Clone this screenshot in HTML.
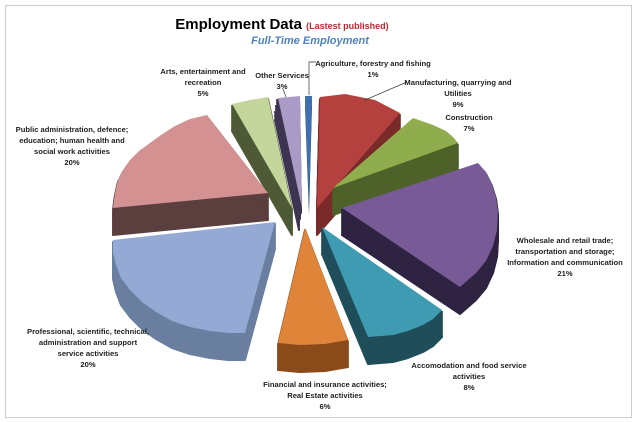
<!DOCTYPE html>
<html><head><meta charset="utf-8"><style>
html,body{margin:0;padding:0;background:#fff}
svg{display:block}
text{font-family:"Liberation Sans",sans-serif;font-weight:bold;font-size:7.6px;fill:#222;text-anchor:middle}
.x use{stroke-width:2;stroke-linejoin:round}
</style></head><body>
<svg width="637" height="422" viewBox="0 0 637 422" xmlns="http://www.w3.org/2000/svg">
<defs>
<polygon id="red" points="317,208 320,97 345,94 375,100 400,113"/>
<polygon id="con" points="333,188 413,118 433,125 446,131 453,137 458,143"/>
<polygon id="agr" points="305,96 312,96 309,205"/>
<polygon id="lav" points="278,98 300,96 302,208"/>
<polygon id="art" points="292,208 232,104 250,100 268,97"/>
<polygon id="pnk" points="268,193 207,115 190,119 175,126 161,135 150,143 139,151 130,160 123,170 118,180 115,193 113,208"/>
<polygon id="pur" points="342,208 478,163 486,172 492,184 496,197 498,212 497,230 493,246 486,261 476,273 460,287"/>
<polygon id="blu" points="275,222 113,240 113,252 116,265 121,278 130,290 142,302 156,312 172,321 190,327 210,331 228,333 245,333"/>
<polygon id="tea" points="322,227 442,310 433,319 423,325 408,331 393,335 368,337"/>
<polygon id="org" points="305,228 278,343 300,345 325,344 348,340"/>
<g id="d2"><use href="#red" y="0"/></g>
</defs>
<rect x="5.5" y="5.5" width="626" height="412" fill="#fff" stroke="#ccc"/>

<g class="x" fill="#7a2a28" stroke="#7a2a28"><use href="#red" y="2"/><use href="#red" y="4"/><use href="#red" y="6"/><use href="#red" y="8"/><use href="#red" y="10"/><use href="#red" y="12"/><use href="#red" y="14"/><use href="#red" y="16"/><use href="#red" y="18"/><use href="#red" y="20"/><use href="#red" y="22"/><use href="#red" y="24"/><use href="#red" y="26"/><use href="#red" y="27"/></g>
<use href="#red" fill="#b5413f"/>
<g class="x" fill="#4e6128" stroke="#4e6128"><use href="#con" y="2"/><use href="#con" y="4"/><use href="#con" y="6"/><use href="#con" y="8"/><use href="#con" y="10"/><use href="#con" y="12"/><use href="#con" y="14"/><use href="#con" y="16"/><use href="#con" y="18"/><use href="#con" y="20"/><use href="#con" y="22"/><use href="#con" y="24"/><use href="#con" y="26"/><use href="#con" y="27"/></g>
<use href="#con" fill="#8fad4c"/>
<g fill="#2a4a7a"><use href="#agr" y="4"/><use href="#agr" y="10"/></g>
<use href="#agr" fill="#3f6fb0"/>
<g class="x" fill="#3c3450" stroke="#3c3450"><use href="#lav" x="-1" y="2"/><use href="#lav" x="-1" y="5"/><use href="#lav" x="-2" y="8"/><use href="#lav" x="-2" y="11"/><use href="#lav" x="-3" y="14"/><use href="#lav" x="-3" y="18"/><use href="#lav" x="-3" y="22"/></g>
<use href="#lav" fill="#a99bc5"/>
<g class="x" fill="#4e5a36" stroke="#4e5a36"><use href="#art" y="2"/><use href="#art" y="4"/><use href="#art" y="6"/><use href="#art" y="8"/><use href="#art" y="10"/><use href="#art" y="12"/><use href="#art" y="14"/><use href="#art" y="16"/><use href="#art" y="18"/><use href="#art" y="20"/><use href="#art" y="22"/><use href="#art" y="24"/><use href="#art" y="26"/><use href="#art" y="27"/></g>
<use href="#art" fill="#c4d69c"/>
<g class="x" fill="#5b3e3e" stroke="#5b3e3e"><use href="#pnk" y="2"/><use href="#pnk" y="4"/><use href="#pnk" y="6"/><use href="#pnk" y="8"/><use href="#pnk" y="10"/><use href="#pnk" y="12"/><use href="#pnk" y="14"/><use href="#pnk" y="16"/><use href="#pnk" y="18"/><use href="#pnk" y="20"/><use href="#pnk" y="22"/><use href="#pnk" y="24"/><use href="#pnk" y="26"/><use href="#pnk" y="27"/></g>
<use href="#pnk" fill="#d39291"/>
<g class="x" fill="#2e2340" stroke="#2e2340"><use href="#pur" y="2"/><use href="#pur" y="4"/><use href="#pur" y="6"/><use href="#pur" y="8"/><use href="#pur" y="10"/><use href="#pur" y="12"/><use href="#pur" y="14"/><use href="#pur" y="16"/><use href="#pur" y="18"/><use href="#pur" y="20"/><use href="#pur" y="22"/><use href="#pur" y="24"/><use href="#pur" y="26"/><use href="#pur" y="27"/></g>
<use href="#pur" fill="#775a96"/>
<g class="x" fill="#6a7ea0" stroke="#6a7ea0"><use href="#blu" y="2"/><use href="#blu" y="4"/><use href="#blu" y="6"/><use href="#blu" y="8"/><use href="#blu" y="10"/><use href="#blu" y="12"/><use href="#blu" y="14"/><use href="#blu" y="16"/><use href="#blu" y="18"/><use href="#blu" y="20"/><use href="#blu" y="22"/><use href="#blu" y="24"/><use href="#blu" y="26"/><use href="#blu" y="27"/></g>
<use href="#blu" fill="#94aad4"/>
<g class="x" fill="#1f4e5a" stroke="#1f4e5a"><use href="#tea" y="2"/><use href="#tea" y="4"/><use href="#tea" y="6"/><use href="#tea" y="8"/><use href="#tea" y="10"/><use href="#tea" y="12"/><use href="#tea" y="14"/><use href="#tea" y="16"/><use href="#tea" y="18"/><use href="#tea" y="20"/><use href="#tea" y="22"/><use href="#tea" y="24"/><use href="#tea" y="26"/><use href="#tea" y="27"/></g>
<use href="#tea" fill="#3f9bb1"/>
<g class="x" fill="#8a4a1a" stroke="#8a4a1a"><use href="#org" y="2"/><use href="#org" y="4"/><use href="#org" y="6"/><use href="#org" y="8"/><use href="#org" y="10"/><use href="#org" y="12"/><use href="#org" y="14"/><use href="#org" y="16"/><use href="#org" y="18"/><use href="#org" y="20"/><use href="#org" y="22"/><use href="#org" y="24"/><use href="#org" y="26"/><use href="#org" y="27"/></g>
<use href="#org" fill="#e0843a"/>

<text x="282" y="29" style="font-size:15px;fill:#000">Employment Data <tspan style="font-size:9px;fill:#c0282d">(Lastest published)</tspan></text>
<text x="310" y="44" style="font-size:11px;font-style:italic;fill:#4f81bd">Full-Time Employment</text>

<g stroke="#333" stroke-width="0.7" fill="none">
<polyline points="316,62 309,62 309,95"/>
<line x1="283" y1="89" x2="286" y2="97"/>
<line x1="365" y1="100" x2="407" y2="82"/>
</g>

<text x="203" y="74">Arts, entertainment and</text>
<text x="203" y="85">recreation</text>
<text x="203" y="96">5%</text>
<text x="282" y="78">Other Services</text>
<text x="282" y="89">3%</text>
<text x="373" y="66">Agriculture, forestry and fishing</text>
<text x="373" y="77">1%</text>
<text x="458" y="85">Manufacturing, quarrying and</text>
<text x="458" y="96">Utilities</text>
<text x="458" y="107">9%</text>
<text x="469" y="120">Construction</text>
<text x="469" y="131">7%</text>
<text x="565" y="243">Wholesale and retail trade;</text>
<text x="565" y="254">transportation and storage;</text>
<text x="565" y="265">Information and communication</text>
<text x="565" y="276">21%</text>
<text x="469" y="368">Accomodation and food service</text>
<text x="469" y="379">activities</text>
<text x="469" y="390">8%</text>
<text x="325" y="387">Financial and insurance activities;</text>
<text x="325" y="398">Real Estate activities</text>
<text x="325" y="409">6%</text>
<text x="88" y="334">Professional, scientific, technical,</text>
<text x="88" y="345">administration and support</text>
<text x="88" y="356">service activities</text>
<text x="88" y="367">20%</text>
<text x="72" y="132">Public administration, defence;</text>
<text x="72" y="143">education; human health and</text>
<text x="72" y="154">social work activities</text>
<text x="72" y="165">20%</text>
</svg>
</body></html>
